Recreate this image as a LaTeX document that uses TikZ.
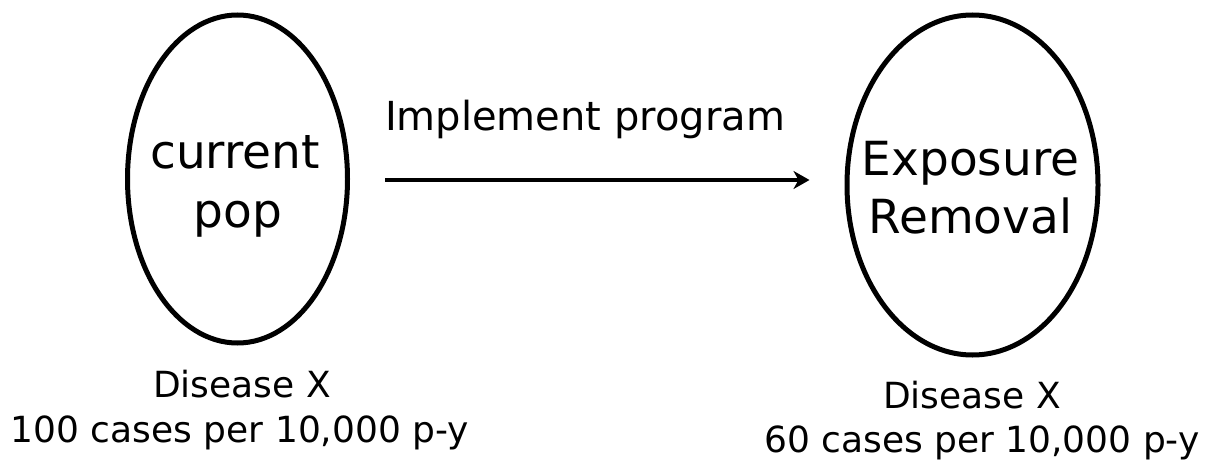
\documentclass[tikz,border=0pt]{standalone}
\usepackage{fontspec}
\setmainfont{DejaVu Sans}
\usetikzlibrary{shapes.geometric,arrows.meta}
\begin{document}
\begin{tikzpicture}[x=1pt,y=-1pt,
  popshape/.style={draw=black,line width=5pt,ellipse,inner sep=0pt,fill=none},
  bigtxt/.style={anchor=base,inner sep=0pt,font=\fontsize{47}{56}\selectfont},
  armtxt/.style={anchor=base,inner sep=0pt,font=\fontsize{40}{48}\selectfont},
  ratetxt/.style={anchor=base,inner sep=0pt,font=\fontsize{36}{44}\selectfont},
  flow/.style={line width=4.5pt,-{Stealth[length=16pt,width=18pt,inset=5pt]}}]
\useasboundingbox (0,0) rectangle (1205,463);

% population ovals
\node[popshape,minimum width=220pt,minimum height=328pt] (cur) at (237.5,179) {};
\node[popshape,minimum width=251pt,minimum height=340pt] (exp) at (972.5,185) {};

% labels inside the ovals
\node[bigtxt] (curA) at (235,168) {current};
\node[bigtxt] (curB) at (238,227) {pop};
\node[bigtxt] (expA) at (970.5,175) {Exposure};
\node[bigtxt] (expB) at (970.5,233) {Removal};

% intervention arrow
\node[armtxt] (prog) at (585,130) {Implement program};
\coordinate (tipend) at ([xshift=-35pt]exp.west |- 0,180);
\coordinate (tailend) at ([xshift=35pt]cur.east |- 0,180);
\draw[flow] (tailend) -- (tipend);

% disease rates
\node[ratetxt] (rateA1) at (242,397) {Disease X};
\node[ratetxt] (rateA2) at (240,442) {100 cases per 10,000 p-y};
\node[ratetxt] (rateB1) at (972,408) {Disease X};
\node[ratetxt] (rateB2) at (982,452) {60 cases per 10,000 p-y};
\end{tikzpicture}
\end{document}
